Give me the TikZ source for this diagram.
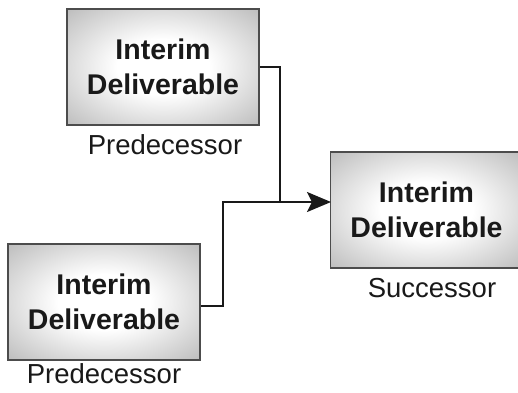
\documentclass[tikz,border=0pt]{standalone}
\usepackage{fontspec}
\setmainfont{Liberation Sans}
\usetikzlibrary{arrows.meta}
% soft glow: white centre fading to grey towards the edges
\pgfdeclareradialshading{boxglow}{\pgfpoint{0bp}{0bp}}{%
  color(0bp)=(white); color(12bp)=(white);
  color(50bp)=(black!42); color(72bp)=(black!58)}
\tikzset{
  deliv/.style={draw=black!70, line width=1.6pt, shading=boxglow,
    minimum width=192pt, minimum height=116pt, inner sep=0pt,
    align=center, text=black!90,
    font=\bfseries\fontsize{28.5}{35}\selectfont},
  lbl/.style={anchor=base, text=black!90, font=\fontsize{27.5}{32}\selectfont},
  wire/.style={draw=black!90, line width=2.3pt},
  tip/.style={-{Stealth[length=24pt,width=20pt,inset=5pt]}}
}
\begin{document}
\begin{tikzpicture}[x=1pt,y=-1pt]
  \useasboundingbox (0,0) rectangle (518,392);
  % the three deliverables
  \node[deliv] (pre1) at (163,67) {Interim\\Deliverable};
  \node[deliv] (pre2) at (104,302) {Interim\\Deliverable};
  \node[deliv] (succ) at (426.5,210) {Interim\\Deliverable};
  % captions
  \node[lbl] (cap1) at (165,154) {Predecessor};
  \node[lbl] (cap2) at (104,383) {Predecessor};
  \node[lbl] (cap3) at (432,297) {Successor};
  % routing points
  \coordinate (join) at (280,202);
  \coordinate (bend) at (223,202);
  \coordinate (aim)  at (331,202);
  \coordinate (out2) at (pre2.east |- 0,306);
  % dependency lines
  \draw[wire] (pre1.east) -| (join);
  \draw[wire, tip] (out2) -| (bend) -- (aim);
\end{tikzpicture}
\end{document}
